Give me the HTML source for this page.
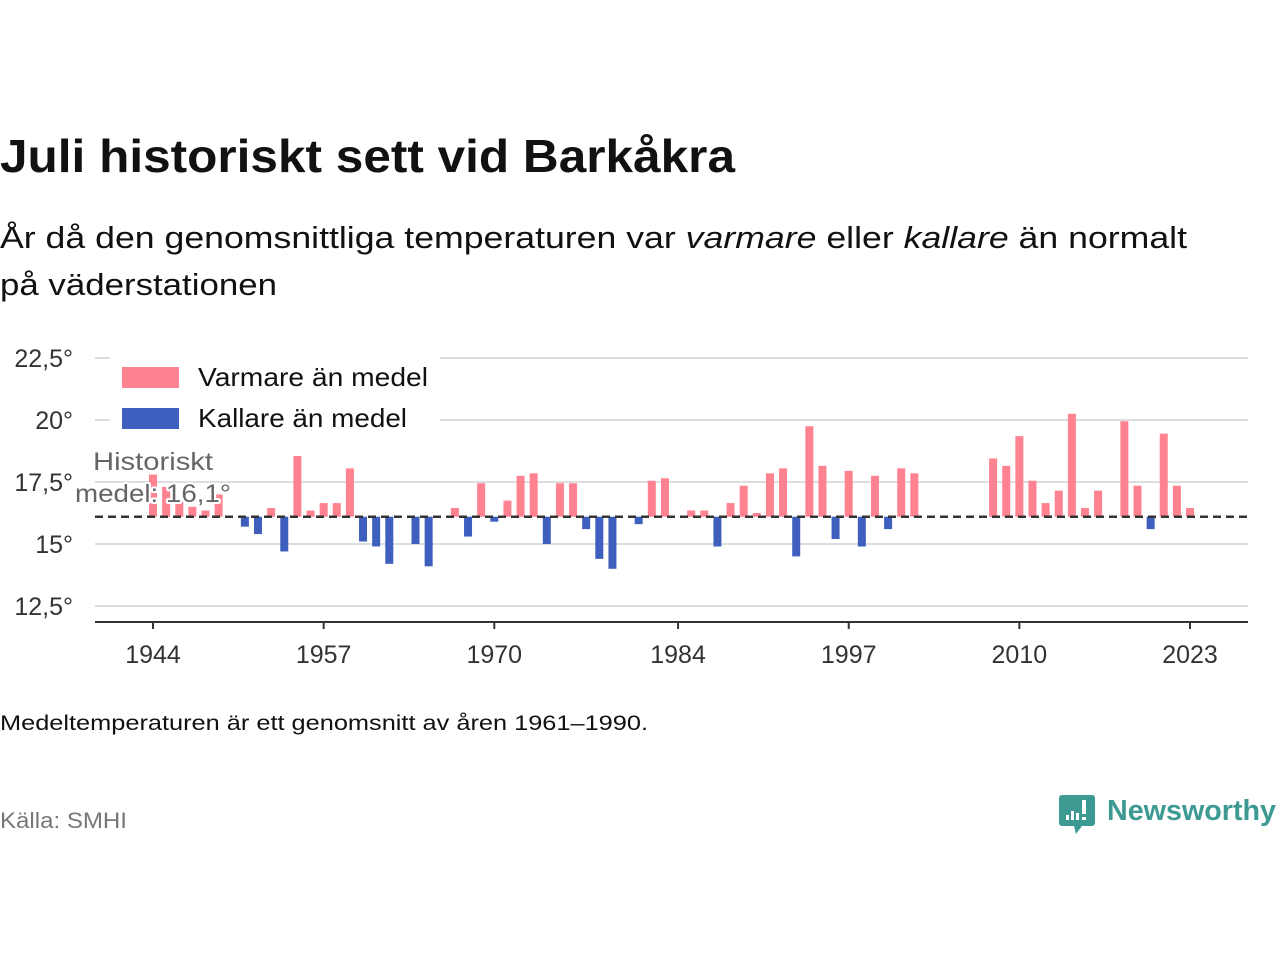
<!DOCTYPE html>
<html><head><meta charset="utf-8">
<style>
body{margin:0;background:#fff;width:1280px;height:960px;overflow:hidden;font-family:"Liberation Sans","DejaVu Sans",sans-serif;}
</style></head>
<body>
<svg width="1280" height="960" xmlns="http://www.w3.org/2000/svg" id="chart">
<text x="0" y="172" font-size="46" font-weight="bold" fill="#111" textLength="735" lengthAdjust="spacingAndGlyphs">Juli historiskt sett vid Barkåkra</text>
<text x="0" y="248" font-size="31" fill="#111" textLength="1187" lengthAdjust="spacingAndGlyphs">År då den genomsnittliga temperaturen var <tspan font-style="italic">varmare</tspan> eller <tspan font-style="italic">kallare</tspan> än normalt</text>
<text x="0" y="295" font-size="31" fill="#111" textLength="277" lengthAdjust="spacingAndGlyphs">på väderstationen</text>
<g id="grid"></g>
<g id="bars"></g>
<g id="axis"></g>
<g>
<rect x="110" y="356" width="330" height="80" fill="#fff"/>
<rect x="122" y="367" width="57" height="21" fill="#ff8291"/>
<text x="198" y="386" font-size="26" fill="#111" textLength="230" lengthAdjust="spacingAndGlyphs">Varmare än medel</text>
<rect x="122" y="408" width="57" height="21" fill="#3f5fbf"/>
<text x="198" y="427" font-size="26" fill="#111" textLength="209" lengthAdjust="spacingAndGlyphs">Kallare än medel</text>
</g>
<g id="meanline"></g>
<text x="93" y="470" font-size="25" fill="#666" stroke="#fff" stroke-width="4" paint-order="stroke" stroke-linejoin="round" textLength="120" lengthAdjust="spacingAndGlyphs">Historiskt</text>
<text x="75" y="502" font-size="25" fill="#666" stroke="#fff" stroke-width="4" paint-order="stroke" stroke-linejoin="round" textLength="156" lengthAdjust="spacingAndGlyphs">medel: 16,1°</text>
<text x="0" y="730" font-size="21" fill="#111" textLength="648" lengthAdjust="spacingAndGlyphs">Medeltemperaturen är ett genomsnitt av åren 1961–1990.</text>
<text x="0" y="828" font-size="22" fill="#777" textLength="127" lengthAdjust="spacingAndGlyphs">Källa: SMHI</text>
<g>
<path d="M1062 795 h30 a3 3 0 0 1 3 3 v25 a3 3 0 0 1 -3 3 h-10 l-6 8 l-2 -8 h-12 a3 3 0 0 1 -3 -3 v-25 a3 3 0 0 1 3 -3z" fill="#3d9a92"/>
<rect x="1066" y="815" width="3" height="5" fill="#fff"/><rect x="1071" y="811" width="3" height="9" fill="#fff"/><rect x="1076" y="813" width="3" height="7" fill="#fff"/><rect x="1082" y="800" width="4" height="14" fill="#fff"/><rect x="1082" y="817" width="4" height="3" fill="#fff"/>
<text x="1107" y="820" font-size="29" font-weight="bold" fill="#3d9a92" textLength="169" lengthAdjust="spacingAndGlyphs">Newsworthy</text>
</g>
</svg>
<script>
const years=[1944,1945,1946,1947,1948,1949,1950,1951,1952,1953,1954,1955,1956,1957,1958,1959,1960,1961,1962,1963,1964,1965,1966,1967,1968,1969,1970,1971,1972,1973,1974,1975,1976,1977,1978,1979,1980,1981,1982,1983,1984,1985,1986,1987,1988,1989,1990,1991,1992,1993,1994,1995,1996,1997,1998,1999,2000,2001,2002,2003,2004,2005,2006,2007,2008,2009,2010,2011,2012,2013,2014,2015,2016,2017,2018,2019,2020,2021,2022,2023];
const temps=[17.8,17.3,16.7,16.5,16.35,17.0,null,15.7,15.4,16.45,14.7,18.55,16.35,16.65,16.65,18.05,15.1,14.9,14.2,null,15.0,14.1,null,16.45,15.3,17.45,15.9,16.75,17.75,17.85,15.0,17.45,17.45,15.6,14.4,14.0,null,15.8,17.55,17.65,null,16.35,16.35,14.9,16.65,17.35,16.25,17.85,18.05,14.5,19.75,18.15,15.2,17.95,14.9,17.75,15.6,18.05,17.85,null,null,null,null,null,18.45,18.15,19.35,17.55,16.65,17.15,20.25,16.45,17.15,null,19.95,17.35,15.6,19.45,17.35,16.45];
const mean=16.1;
const yTicks=[12.5,15,17.5,20,22.5];
const yTickLabels=["12,5°","15°","17,5°","20°","22,5°"];
const xTicks=[1944,1957,1970,1984,1997,2010,2023];
const NS="http://www.w3.org/2000/svg";
const X=y=>153+(y-1944)*(1190-153)/79;
const Y=v=>420+(20-v)*24.8;
function mk(t,a,p){const e=document.createElementNS(NS,t);for(const k in a)e.setAttribute(k,a[k]);p.appendChild(e);return e;}
const grid=document.getElementById('grid'),bars=document.getElementById('bars'),axis=document.getElementById('axis'),mlg=document.getElementById('meanline');
yTicks.forEach((v,i)=>{
 const l=mk('line',{x1:95,x2:1248,y1:Y(v),y2:Y(v),stroke:'#ddd','stroke-width':2},grid);
 
 
 const t=mk('text',{x:73,y:Y(v)+9,'text-anchor':'end','font-size':25,fill:'#333'},grid);
 t.textContent=yTickLabels[i];
 
 
});
years.forEach((yr,i)=>{
 const v=temps[i]; if(v==null) return;
 const y0=Y(mean),y1=Y(v);
 const r=mk('rect',{x:X(yr)-4,y:Math.min(y0,y1),width:8,height:Math.abs(y1-y0),fill:v>=mean?'#ff8291':'#3f5fbf'},bars);
 
 
});
const ml=mk('line',{x1:95,x2:1248,y1:Y(mean),y2:Y(mean),stroke:'#333','stroke-width':2.5,'stroke-dasharray':'8,5'},mlg);


const ax=mk('line',{x1:95,x2:1248,y1:622,y2:622,stroke:'#333','stroke-width':2},axis);


xTicks.forEach(yr=>{
 const tk=mk('line',{x1:X(yr),x2:X(yr),y1:622,y2:629,stroke:'#333','stroke-width':2},axis);
 
 
 const t=mk('text',{x:X(yr),y:663,'text-anchor':'middle','font-size':25,fill:'#333'},axis);
 t.textContent=yr;
 
 
});
</script>
</body></html>
